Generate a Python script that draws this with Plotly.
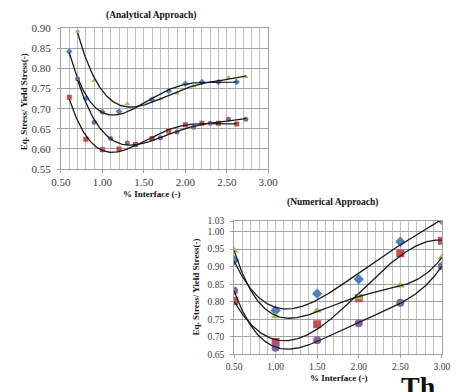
import numpy as np
import plotly.graph_objects as go

# ---------------- data: Analytical approach (top chart) ----------------
ana_blue_x = [0.60, 0.80, 1.00, 1.20, 1.60, 1.80, 2.00, 2.20, 2.40, 2.62]
ana_blue_y = [0.842, 0.725, 0.692, 0.693, 0.722, 0.744, 0.762, 0.766, 0.766, 0.766]
ana_red_x = [0.60, 0.80, 1.00, 1.20, 1.40, 1.60, 1.80, 2.00, 2.20, 2.40, 2.62]
ana_red_y = [0.728, 0.624, 0.598, 0.600, 0.611, 0.626, 0.644, 0.660, 0.664, 0.664, 0.662]
ana_green_x = [0.70, 0.90, 1.30, 1.70, 1.90, 2.10, 2.52, 2.73]
ana_green_y = [0.892, 0.769, 0.712, 0.724, 0.738, 0.756, 0.777, 0.779]
ana_purple_x = [0.70, 0.90, 1.10, 1.30, 1.70, 1.90, 2.10, 2.30, 2.52, 2.73]
ana_purple_y = [0.774, 0.666, 0.626, 0.615, 0.628, 0.642, 0.654, 0.664, 0.674, 0.674]

# ---------------- data: Numerical approach (bottom chart) ----------------
num_x = [0.50, 1.00, 1.50, 2.00, 2.50, 3.00]
num_blue_y = [0.918, 0.775, 0.823, 0.864, 0.971, 1.033]
num_red_y = [0.802, 0.685, 0.736, 0.810, 0.938, 0.974]
num_green_y = [0.946, 0.759, 0.775, 0.812, 0.846, 0.926]
num_purple_y = [0.831, 0.669, 0.690, 0.739, 0.797, 0.901]

top_xticks = [0.5, 1.0, 1.5, 2.0, 2.5, 3.0]
top_yticks = [0.55, 0.60, 0.65, 0.70, 0.75, 0.80, 0.85, 0.90]
bot_xticks = [0.5, 1.0, 1.5, 2.0, 2.5, 3.0]
bot_yticks = [0.65, 0.70, 0.75, 0.80, 0.85, 0.90, 0.95, 1.00, 1.03]

BLUE = "#4F81BD"
RED = "#C0504D"
GREEN = "#9BBB59"
PURPLE = "#8064A2"
SERIF = "Liberation Serif, Times New Roman, serif"

fig = go.Figure()


def add_series(x, y, color, symbol, size, xa, ya, deg):
    coef = np.polyfit(x, y, deg)
    xs = np.linspace(min(x), max(x), 200)
    fig.add_trace(go.Scatter(x=x, y=y, mode="markers", xaxis=xa, yaxis=ya,
                             marker=dict(color=color, symbol=symbol, size=size,
                                         line=dict(width=0)),
                             showlegend=False, hoverinfo="skip"))
    fig.add_trace(go.Scatter(x=xs, y=np.polyval(coef, xs), mode="lines",
                             xaxis=xa, yaxis=ya,
                             line=dict(color="#1a1a1a", width=1.3),
                             showlegend=False, hoverinfo="skip"))


add_series(ana_blue_x, ana_blue_y, BLUE, "diamond", 5, "x", "y", 4)
add_series(ana_red_x, ana_red_y, RED, "square", 5, "x", "y", 4)
add_series(ana_green_x, ana_green_y, GREEN, "triangle-up", 5, "x", "y", 4)
add_series(ana_purple_x, ana_purple_y, PURPLE, "circle", 5, "x", "y", 4)

add_series(num_x, num_blue_y, BLUE, "diamond", 8, "x2", "y2", 4)
add_series(num_x, num_red_y, RED, "square", 8, "x2", "y2", 4)
add_series(num_x, num_green_y, GREEN, "triangle-up", 8, "x2", "y2", 4)
add_series(num_x, num_purple_y, PURPLE, "circle", 8, "x2", "y2", 4)

W, H = 458, 392


def dx(px):
    return px / W


def dy(py):
    return 1 - py / H


grid_major = "#a0a0a0"
grid_minor = "#c0c0c0"
tickfont_top = dict(family=SERIF, size=11, color="#3a3a3a")
tickfont_bot = dict(family=SERIF, size=9.5, color="#3a3a3a")

common_x = dict(showgrid=True, gridcolor=grid_minor, gridwidth=1,
                showline=True, linecolor=grid_major, mirror=True,
                ticks="outside", ticklen=3, tickcolor=grid_major,
                tickformat=".2f", zeroline=False,
                minor=dict(dtick=0.1, showgrid=True, gridcolor=grid_minor))
common_y = dict(showgrid=True, gridcolor=grid_major, gridwidth=1,
                showline=True, linecolor=grid_major, mirror=True,
                ticks="outside", ticklen=3, tickcolor=grid_major,
                tickformat=".2f", zeroline=False, ticklabelstandoff=4)

fig.update_layout(
    width=W, height=H,
    margin=dict(l=0, r=0, t=0, b=0),
    paper_bgcolor="white", plot_bgcolor="white",
    xaxis=dict(common_x, domain=[dx(53.3), dx(270.0)], range=[0.5, 3.0],
               tickvals=top_xticks, tickfont=tickfont_top, anchor="y"),
    yaxis=dict(common_y, domain=[dy(168.3), dy(22.7)], range=[0.55, 0.90],
               tickvals=top_yticks, tickfont=tickfont_top, anchor="x"),
    xaxis2=dict(common_x, domain=[dx(234.3), dx(451.6)], range=[0.5, 3.0],
                tickvals=bot_xticks, tickfont=tickfont_bot, anchor="y2"),
    yaxis2=dict(common_y, domain=[dy(359.4), dy(221.8)], range=[0.65, 1.03],
                tickvals=bot_yticks, tickfont=tickfont_bot, anchor="x2"),
)

title_font = dict(family=SERIF, size=9.5, color="#111111")
axis_font = dict(family=SERIF, size=9, color="#111111")


def txt(text, x, y, font, angle=0, xanchor="center", yanchor="middle"):
    fig.add_annotation(text=text, x=dx(x), y=dy(y), xref="paper", yref="paper",
                       showarrow=False, font=font, textangle=angle,
                       xanchor=xanchor, yanchor=yanchor)


txt("<b>(Analytical Approach)</b>", 147, 10, title_font)
txt("<b>% Interface (-)</b>", 148, 194, axis_font)
txt("<b>Eq. Stress/ Yield Stress(-)</b>", 15, 99, axis_font, angle=-90)

txt("<b>(Numerical Approach)</b>", 337, 203, title_font)
txt("<b>% Interface (-)</b>", 343, 384, axis_font)
txt("<b>Eq. Stress/ Yield Stress(-)</b>", 195, 290, axis_font, angle=-90)

txt("<b>Th</b>", 407, 374, dict(family=SERIF, size=28, color="#111111"),
    xanchor="left", yanchor="top")

fig.write_html("out.html")
